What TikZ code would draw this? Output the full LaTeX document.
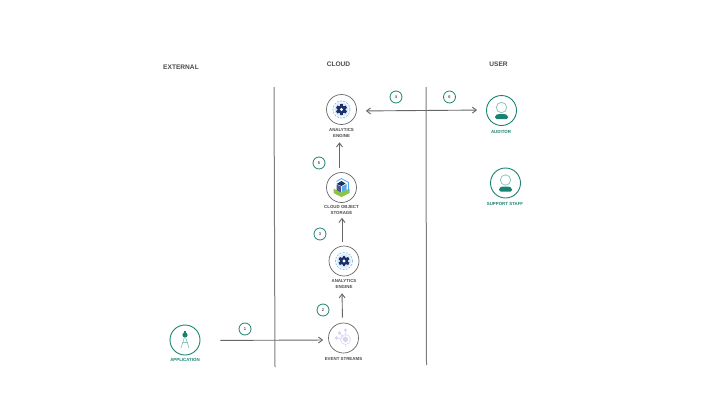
\documentclass[tikz,border=0pt]{standalone}
\usepackage{fontspec}
\setmainfont{Liberation Sans}
\usetikzlibrary{arrows.meta,positioning}
\definecolor{ibmgreen}{HTML}{1A8270}
\definecolor{palegreen}{HTML}{8CC8BA}
\definecolor{linegray}{HTML}{666666}
\definecolor{textgray}{HTML}{4A4A4A}
\definecolor{gearblue}{HTML}{1C2F6B}
\definecolor{skyblue}{HTML}{5AAAE8}
\definecolor{limegreen}{HTML}{8CC63F}
\definecolor{lilac}{HTML}{D8D2F5}

\tikzset{
    heading/.style={font=\bfseries\fontsize{6.6}{7}\selectfont, text=textgray},
    service/.style={draw=linegray, circle, minimum size=30pt, inner sep=0pt, line width=0.7pt},
    actor/.style={draw=ibmgreen, circle, minimum size=30pt, inner sep=0pt, line width=0.9pt},
    servicelabel/.style={font=\bfseries\fontsize{4.4}{6}\selectfont, text=textgray, align=center, inner sep=0pt},
    actorlabel/.style={font=\bfseries\fontsize{4.4}{6}\selectfont, text=ibmgreen, align=center, inner sep=0pt},
    badge/.style={draw=ibmgreen, circle, minimum size=12pt, inner sep=0pt, line width=0.8pt,
        font=\bfseries\fontsize{4}{5}\selectfont, text=textgray},
    divider/.style={draw=linegray!85, line width=1pt},
    flow/.style={draw=linegray, line width=0.9pt, -{Straight Barb[length=4pt,width=6pt]}},
    person/.pic={
        \draw[palegreen, line width=0.8pt] (0,-3) circle (5.2);
        \fill[ibmgreen, rounded corners=1.5pt] (-6.5,8.5) -- (-6.5,5) -- (-3.5,3.5) -- (3.5,3.5) -- (6.5,5) -- (6.5,8.5) -- cycle;
    },
    gear/.pic={
        \draw[skyblue!70, line width=0.8pt, dash pattern=on 2pt off 1.2pt] (0,0) circle (8.5);
        \fill[skyblue!25] (0,0) circle (7);
        \foreach \ang in {0,60,...,300} {
            \fill[gearblue, rotate=\ang] (-1.3,-5.4) rectangle (1.3,5.4);
        }
        \fill[gearblue] (0,0) circle (4.2);
        \fill[white] (0,0) circle (1.7);
    },
    cube/.pic={
        \fill[limegreen] (-8,1) -- (0,5) -- (8,1) -- (8,5.5) -- (0,9.5) -- (-8,5.5) -- cycle;
        \draw[skyblue, line width=0.8pt] (-5,-6) -- (0,-9) -- (7,-5) -- (7,3);
        \fill[gearblue] (-5,-3.5) -- (0,-6.5) -- (4,-4) -- (0,-1.5) -- cycle;
        \fill[gearblue!80] (-5,-3) -- (-0.5,-1) -- (-0.5,5) -- (-5,2.5) -- cycle;
        \fill[skyblue] (0.5,-1) -- (5,-3.5) -- (5,2.5) -- (0.5,5) -- cycle;
    },
    streams/.pic={
        \draw[lilac, line width=0.6pt] (2,1.5) circle (5);
        \fill[lilac] (2,1.5) circle (2.6);
        \fill[lilac] (-7,0) circle (1.8) (-4,-5) circle (1.8) (2,-8) circle (1.6);
        \draw[lilac, line width=0.5pt] (-7,0) -- (2,1.5) (-4,-5) -- (2,1.5) (2,-8) -- (2,1.5) (2,6.5) -- (2,9);
    },
    compass/.pic={
        \fill[ibmgreen] (0,-5) circle (2.6);
        \fill[ibmgreen] (-0.7,-9) rectangle (0.7,-6);
        \draw[palegreen, line width=0.7pt] (-0.5,-3) -- (-4,8) (0.5,-3) -- (4,8) (-3,2.5) -- (3,2.5);
    }
}

\begin{document}
\begin{tikzpicture}[x=1pt, y=-1pt]
        \useasboundingbox (0,0) rectangle (720,405);

        % headings
        \node[heading] (external) at (181,67) {EXTERNAL};
        \node[heading] (cloud) at (338.5,64.5) {CLOUD};
        \node[heading] (user) at (498.5,64.5) {USER};

        % zone dividers
        \coordinate (divAtop) at (274,87);
        \coordinate (divAbot) at (275,367);
        \coordinate (divBtop) at (426,87);
        \coordinate (divBbot) at (426.5,365);
        \draw[divider] (divAtop) -- (divAbot);
        \draw[divider] (divBtop) -- (divBbot);

        % services
        \node[service] (engineB) at (341.5,109.5) {};
        \node[service] (storage) at (341.5,187.5) {};
        \node[service] (engineA) at (344,261) {};
        \node[service] (streams) at (343.5,338) {};
        \pic at (engineB) {gear};
        \pic at (storage) {cube};
        \pic at (engineA) {gear};
        \pic at (streams) {streams};
        \node[servicelabel] (engineBlabel) at (341.5,132.5) {ANALYTICS\\ENGINE};
        \node[servicelabel] (storagelabel) at (341.5,210) {CLOUD OBJECT\\STORAGE};
        \node[servicelabel] (engineAlabel) at (344,284) {ANALYTICS\\ENGINE};
        \node[servicelabel] (streamslabel) at (343.5,358.5) {EVENT STREAMS};

        % actors
        \node[actor] (application) at (185,340) {};
        \node[actor] (auditor) at (501.5,110.5) {};
        \node[actor] (support) at (505.5,183) {};
        \pic at (application) {compass};
        \pic at (auditor) {person};
        \pic at (support) {person};
        \node[actorlabel] (applicationlabel) at (185,359.5) {APPLICATION};
        \node[actorlabel] (auditorlabel) at (501,132) {AUDITOR};
        \node[actorlabel] (supportlabel) at (505,204) {SUPPORT STAFF};

        % flows
        \draw[flow, shorten <=20pt, shorten >=5pt] ([yshift=-0.5pt]application.east) -- ([yshift=-2pt]streams.west);
        \draw[flow, shorten <=5pt, shorten >=4.5pt] ([xshift=-1pt]streams.north) -- ([xshift=-2pt]engineA.south |- engineAlabel.south);
        \draw[flow, shorten <=4pt, shorten >=3pt] ([xshift=-2pt]engineA.north) -- ([xshift=0.5pt]storage.south |- storagelabel.south);
        \draw[flow, shorten <=4pt, shorten >=5pt] ([xshift=-2pt]storage.north) -- ([xshift=-2pt]engineB.south |- engineBlabel.south);
        \draw[flow, <->, >={Straight Barb[length=4pt,width=6pt]}, shorten <=9pt, shorten >=9pt] ([yshift=-1.5pt]engineB.east) -- ([yshift=0.5pt]auditor.west);

        % step numbers
        \node[badge] (step1) at (245,329) {1};
        \node[badge] (step2) at (323,310) {2};
        \node[badge] (step3) at (320,234) {3};
        \node[badge] (step4) at (396,97) {4};
        \node[badge] (step5) at (319,163) {5};
        \node[badge] (step6) at (449.5,97) {6};
\end{tikzpicture}
\end{document}
